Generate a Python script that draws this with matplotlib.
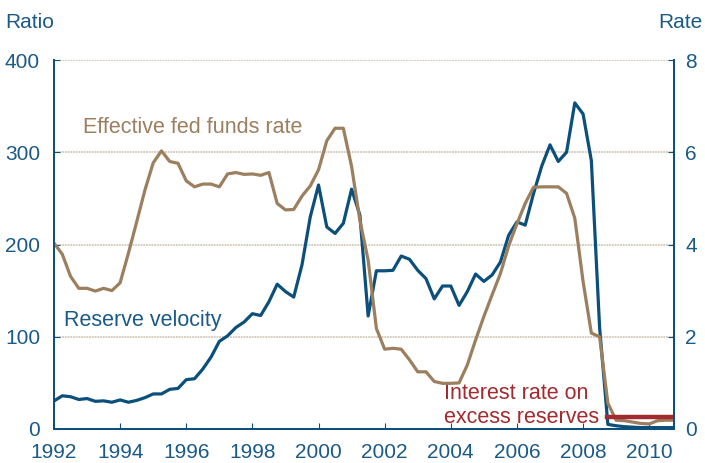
import numpy as np
import matplotlib.pyplot as plt

plt.rcParams['font.family'] = ['Liberation Sans', 'DejaVu Sans']

# Données trimestrielles 1992T1 - 2010T4
years = 1992 + np.arange(76) / 4

velocity = [30.4, 36, 35, 32, 33, 30, 30.5, 29, 31.5, 29,
            31, 34, 38, 38, 43, 44, 53.5, 54.5, 65, 78,
            95, 101, 110, 116, 125, 123, 138, 157, 149, 143,
            178, 230, 264.5, 219, 212, 223, 260, 232, 122.5, 171.5,
            171.5, 172, 187.5, 184, 172, 163, 141, 155, 155, 134,
            149, 168, 160, 167, 181, 210, 224.5, 221, 255, 285,
            308, 290, 300, 353.5, 341.5, 291, 110, 5, 3.5, 2.5,
            2, 1.5, 1.5, 1.5, 1.5, 1.5]

fedfunds = [4.03, 3.79, 3.31, 3.05, 3.05, 2.99, 3.05, 3.0, 3.17, 3.81,
            4.49, 5.18, 5.77, 6.03, 5.80, 5.76, 5.38, 5.25, 5.31, 5.31,
            5.25, 5.53, 5.56, 5.52, 5.53, 5.50, 5.56, 4.89, 4.75, 4.76,
            5.05, 5.27, 5.62, 6.25, 6.52, 6.52, 5.69, 4.53, 3.66, 2.18,
            1.73, 1.75, 1.73, 1.50, 1.24, 1.24, 1.03, 0.99, 0.99, 1.0,
            1.39, 1.93, 2.44, 2.91, 3.37, 3.97, 4.45, 4.89, 5.24, 5.25,
            5.25, 5.25, 5.11, 4.57, 3.2, 2.08, 2.0, 0.56, 0.19, 0.18,
            0.15, 0.12, 0.11, 0.18, 0.19, 0.19]

ioer_years = [2008.72, 2010.75]
ioer = [0.25, 0.25]

ratio_ticks = [0, 100, 200, 300, 400]
rate_ticks = [0, 2, 4, 6, 8]
year_ticks = list(range(1992, 2011, 2))

# Couleurs
bleu = "#0b4f7a"
texte = "#1b5a86"
brun = "#9b7f5f"
rouge = "#a32a2e"
grille = "#d2c7ba"

fig = plt.figure(figsize=(7.05, 4.63), dpi=100)
ax = fig.add_axes([54 / 705, 34 / 463, 620 / 705, 369 / 463])
ax2 = ax.twinx()

ax.set_xlim(1992, 2010.75)
ax.set_ylim(0, 400)
ax2.set_ylim(0, 8)

for y in ratio_ticks[1:]:
    ax.axhline(y, color=grille, linestyle=(0, (1, 0.5)), linewidth=1.3, zorder=0)

ax.plot(years, velocity, color=bleu, linewidth=2.3, zorder=3)
ax2.plot(years, fedfunds, color=brun, linewidth=2.3)
ax2.plot(ioer_years, ioer, color=rouge, linewidth=3.2)

ax.set_xticks(year_ticks)
ax.set_yticks(ratio_ticks)
ax2.set_yticks(rate_ticks)

for a in (ax, ax2):
    a.spines['top'].set_visible(False)
    for s in ('left', 'right', 'bottom'):
        a.spines[s].set_color(bleu)
        a.spines[s].set_linewidth(1.3)
    a.tick_params(direction='in', length=4, color=bleu, labelcolor=texte,
                  labelsize=15)
ax.tick_params(axis='y', pad=10)
ax.tick_params(axis='x', pad=10)
ax2.tick_params(axis='y', pad=8)

fig.text(5 / 705, 1 - 22 / 463, "Ratio", color=texte, fontsize=15,
         ha='left', va='center')
fig.text(703 / 705, 1 - 22 / 463, "Rate", color=texte, fontsize=15,
         ha='right', va='center')

ax.text(1992.89, 327, "Effective fed funds rate", color=brun, fontsize=15.5,
        ha='left', va='center')
ax.text(1992.29, 118, "Reserve velocity", color=texte, fontsize=15.5,
        ha='left', va='center')
ax.text(2003.78, 25.5, "Interest rate on\nexcess reserves", color=rouge,
        fontsize=15.5, ha='left', va='center', linespacing=1.15)

fig.savefig("out.png", dpi=100)
